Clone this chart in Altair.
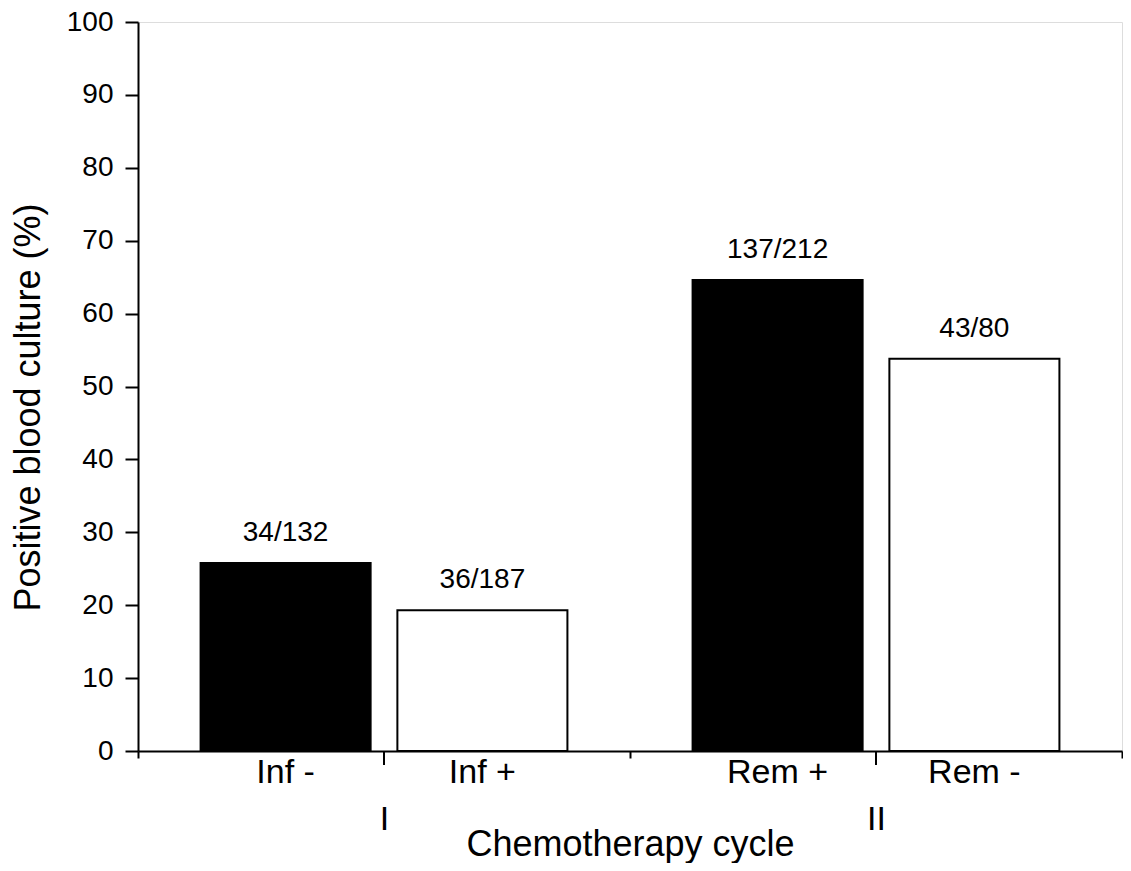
import altair as alt
import pandas as pd

# ---- data ----
group_order = ["I", "II"]
groups = ["I", "I", "II", "II"]
labels = ["Inf -", "Inf +", "Rem +", "Rem -"]
kinds = ["filled", "open", "filled", "open"]
percent = [25.8, 19.3, 64.6, 53.8]
counts = ["34/132", "36/187", "137/212", "43/80"]

df = pd.DataFrame({"group": groups, "label": labels, "kind": kinds,
                   "percent": percent, "count": counts})
gdf = pd.DataFrame({"group": group_order})

W, H = 984, 729
FONT = "Liberation Sans"

x_enc = alt.X(
    "group:N", sort=group_order,
    scale=alt.Scale(paddingInner=0, paddingOuter=0),
    axis=alt.Axis(
        title="Chemotherapy cycle", labelAngle=0, tickBand="extent",
        tickSize=7, tickWidth=2, tickColor="black",
        domainColor="black", domainWidth=2,
        labelFont=FONT, labelFontSize=34, labelColor="black", labelPadding=44,
        titleFont=FONT, titleFontSize=36, titleFontWeight="normal",
        titleColor="black", titleBaseline="alphabetic", titleY=104,
    ),
)
xo_enc = alt.XOffset("kind:N", sort=["filled", "open"],
                     scale=alt.Scale(paddingInner=0.136, paddingOuter=0.318))

y_enc = alt.Y(
    "percent:Q",
    scale=alt.Scale(domain=[0, 100], nice=False),
    axis=alt.Axis(
        title="Positive blood culture (%)",
        values=list(range(0, 101, 5)),
        labelExpr="datum.value % 10 === 0 ? datum.label : ''",
        tickSize={"condition": {"test": "datum.value % 10 === 0", "value": 13}, "value": 7},
        tickWidth=2, tickColor="black", domainColor="black", domainWidth=2,
        grid=False,
        labelFont=FONT, labelFontSize=28, labelColor="black", labelPadding=12,
        titleFont=FONT, titleFontSize=36, titleFontWeight="normal",
        titleColor="black", titlePadding=19, titleY=385,
    ),
)

bars = alt.Chart(df).mark_bar(stroke="black", strokeWidth=2).encode(
    x=x_enc, xOffset=xo_enc, y=y_enc,
    fill=alt.Fill("kind:N", scale=alt.Scale(domain=["filled", "open"], range=["black", "white"]),
                  legend=None),
)

ann = alt.Chart(df).mark_text(font=FONT, fontSize=28, color="black",
                              baseline="alphabetic", dy=-22).encode(
    x=x_enc, xOffset=xo_enc, y=alt.Y("percent:Q"), text="count:N",
)

sub = alt.Chart(df).mark_text(font=FONT, fontSize=34, color="black",
                              baseline="alphabetic").encode(
    x=x_enc, xOffset=xo_enc, y=alt.value(H + 32), text="label:N",
)

long_ticks = alt.Chart(gdf).mark_rule(color="black", strokeWidth=2).encode(
    x=alt.X("group:N", sort=group_order), y=alt.value(H), y2=alt.value(H + 14),
)

chart = alt.layer(bars, ann, sub, long_ticks).properties(
    width=W, height=H,
    padding={"left": 130, "top": 14, "right": 1, "bottom": 112},
    autosize=alt.AutoSizeParams(type="none"),
).configure_view(stroke=None).configure(background="white")

chart.save("out.html", embed_options={"renderer": "svg", "actions": False})
